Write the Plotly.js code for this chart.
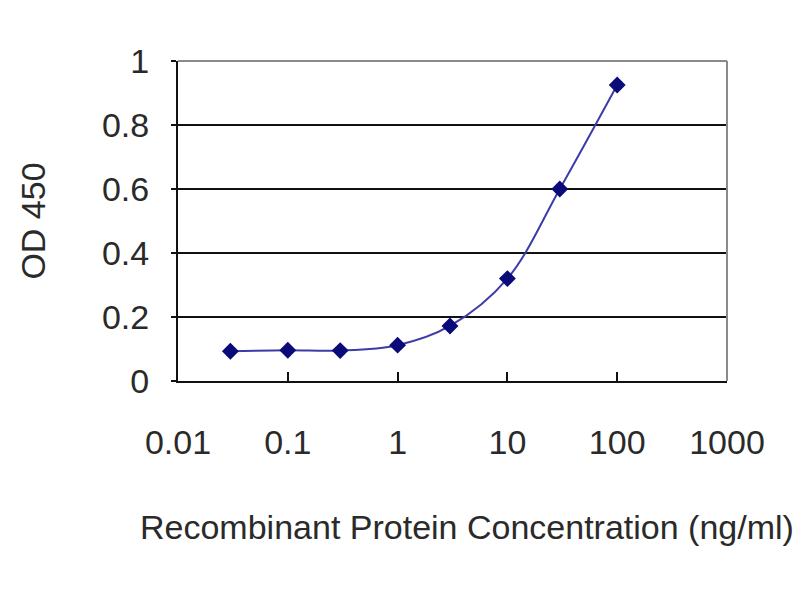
<!DOCTYPE html>
<html>
<head>
<meta charset="utf-8">
<script src="https://cdn.plot.ly/plotly-3.0.1.min.js"></script>
<style>html,body{margin:0;padding:0;background:#fff;}#chart{width:800px;height:600px;}</style>
</head>
<body>
<div id="chart"></div>
<script>
const concentrations = [0.03, 0.1, 0.3, 1, 3, 10, 30, 100];
const od450 = [0.093, 0.096, 0.095, 0.112, 0.172, 0.320, 0.600, 0.925];
const xTickVals = [0.01, 0.1, 1, 10, 100, 1000];
const xTickText = ["0.01", "0.1", "1", "10", "100", "1000"];
const yTickVals = [0, 0.2, 0.4, 0.6, 0.8, 1];
const yTickText = ["0", "0.2", "0.4", "0.6", "0.8", "1"];
const xTitle = "Recombinant Protein Concentration (ng/ml)";
const yTitle = "OD 450";

const font = "Liberation Sans, Arial, sans-serif";
const textColor = "#2a2a2a";

const trace = {
  x: concentrations,
  y: od450,
  type: "scatter",
  mode: "lines+markers",
  line: {shape: "spline", color: "#3c3ca8", width: 2},
  marker: {symbol: "diamond", size: 13, color: "#0a0a78"},
  hoverinfo: "x+y"
};

const layout = {
  width: 800,
  height: 600,
  margin: {l: 178, r: 73, t: 61, b: 219},
  paper_bgcolor: "#ffffff",
  plot_bgcolor: "#ffffff",
  showlegend: false,
  font: {family: font, size: 33, color: textColor},
  xaxis: {
    type: "log",
    range: [-2, 3],
    tickvals: xTickVals,
    ticktext: xTickText,
    ticks: "inside",
    ticklen: 9,
    tickwidth: 2,
    tickcolor: "#111",
    showgrid: false,
    zeroline: false,
    showline: true,
    linecolor: "#111",
    linewidth: 2,
    ticklabelstandoff: 30,
    tickfont: {family: font, size: 34, color: textColor}
  },
  yaxis: {
    range: [0, 1],
    tickvals: yTickVals,
    ticktext: yTickText,
    ticks: "outside",
    ticklen: 5,
    tickwidth: 2,
    tickcolor: "#111",
    showgrid: true,
    gridcolor: "#111",
    gridwidth: 2,
    zeroline: false,
    showline: true,
    linecolor: "#111",
    linewidth: 2,
    ticklabelstandoff: 15,
    tickfont: {family: font, size: 34, color: textColor},
    title: {text: yTitle, font: {family: font, size: 34, color: textColor}, standoff: 46}
  },
  annotations: [
    {text: xTitle, xref: "paper", yref: "paper", x: 0.526, y: -0.455, xanchor: "center", yanchor: "middle",
     showarrow: false, font: {family: font, size: 34, color: textColor}}
  ],
  shapes: [
    {type: "line", xref: "paper", yref: "paper", x0: 0, x1: 1, y0: 1, y1: 1, line: {color: "#8a8a8a", width: 2}, layer: "above"},
    {type: "line", xref: "paper", yref: "paper", x0: 1, x1: 1, y0: 0, y1: 1, line: {color: "#8a8a8a", width: 2}, layer: "above"}
  ]
};

Plotly.newPlot("chart", [trace], layout, {displayModeBar: false, staticPlot: true});
</script>
</body>
</html>
